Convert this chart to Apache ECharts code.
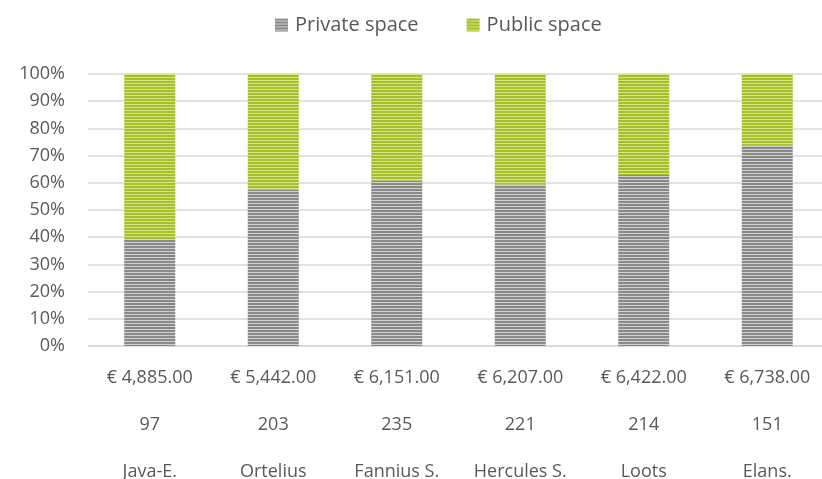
<!DOCTYPE html>
<html>
<head>
<meta charset="utf-8">
<script src="https://cdn.jsdelivr.net/npm/echarts@6/dist/echarts.min.js"></script>
<style>
  html, body { margin: 0; padding: 0; background: #fff; }
  #chart { width: 822px; height: 479px; }
</style>
</head>
<body>
<div id="chart"></div>
<script>
// data
var categories = ['Java-E.', 'Ortelius', 'Fannius S.', 'Hercules S.', 'Loots', 'Elans.'];
var prices = [4885, 5442, 6151, 6207, 6422, 6738];
var counts = [97, 203, 235, 221, 214, 151];
var privateShare = [39.0, 57.4, 60.8, 59.4, 62.9, 73.6];
var publicShare = [61.0, 42.6, 39.2, 40.6, 37.1, 26.4];
var yTicks = [0, 10, 20, 30, 40, 50, 60, 70, 80, 90, 100];

var FONT = 'Open Sans';
var TXT = '#595959';

// striped fill, like the excel pattern fill
function stripes(dark, light) {
  var c = document.createElement('canvas');
  c.width = 4;
  c.height = 3;
  var ctx = c.getContext('2d');
  ctx.fillStyle = dark;
  ctx.fillRect(0, 0, 4, 3);
  ctx.fillStyle = light;
  ctx.fillRect(0, 2, 4, 1);
  return { image: c, repeat: 'repeat' };
}

function money(v) {
  return '€ ' + v.toLocaleString('en-US', {minimumFractionDigits: 2, maximumFractionDigits: 2});
}

var chart = echarts.init(document.getElementById('chart'));

var option = {
  animation: false,
  backgroundColor: '#fff',
  legend: {
    top: 10,
    left: 270,
    itemWidth: 13,
    itemHeight: 13,
    itemGap: 48,
    icon: 'rect',
    textStyle: { fontFamily: FONT, fontSize: 20, color: TXT, padding: [0, 0, 0, 2] },
    data: ['Private space', 'Public space']
  },
  grid: { left: 88, right: -7, top: 74, bottom: 133, outerBoundsMode: 'none', containLabel: false },
  xAxis: {
    type: 'category',
    data: categories,
    axisLine: { lineStyle: { color: '#d9d9d9', width: 1.5 } },
    axisTick: { show: false },
    axisLabel: {
      margin: 8,
      interval: 0,
      fontFamily: FONT,
      fontSize: 18,
      color: TXT,
      lineHeight: 47,
      formatter: function (val, i) {
        return money(prices[i]) + '\n' + counts[i] + '\n' + val;
      }
    }
  },
  yAxis: {
    type: 'value',
    min: yTicks[0],
    max: yTicks[yTicks.length - 1],
    interval: 10,
    axisLine: { show: false },
    axisTick: { show: false },
    splitLine: { lineStyle: { color: '#d9d9d9', width: 1.5 } },
    axisLabel: {
      margin: 23,
      fontFamily: FONT,
      fontSize: 18,
      color: TXT,
      formatter: '{value}%'
    }
  },
  series: [
    {
      name: 'Private space',
      type: 'bar',
      stack: 'all',
      barWidth: 51,
      itemStyle: { color: stripes('#8a8a8a', '#cfcfcf') },
      data: privateShare
    },
    {
      name: 'Public space',
      type: 'bar',
      stack: 'all',
      barWidth: 51,
      itemStyle: { color: stripes('#a6bf2c', '#d6e486') },
      data: publicShare
    }
  ]
};

chart.setOption(option);
</script>
</body>
</html>
